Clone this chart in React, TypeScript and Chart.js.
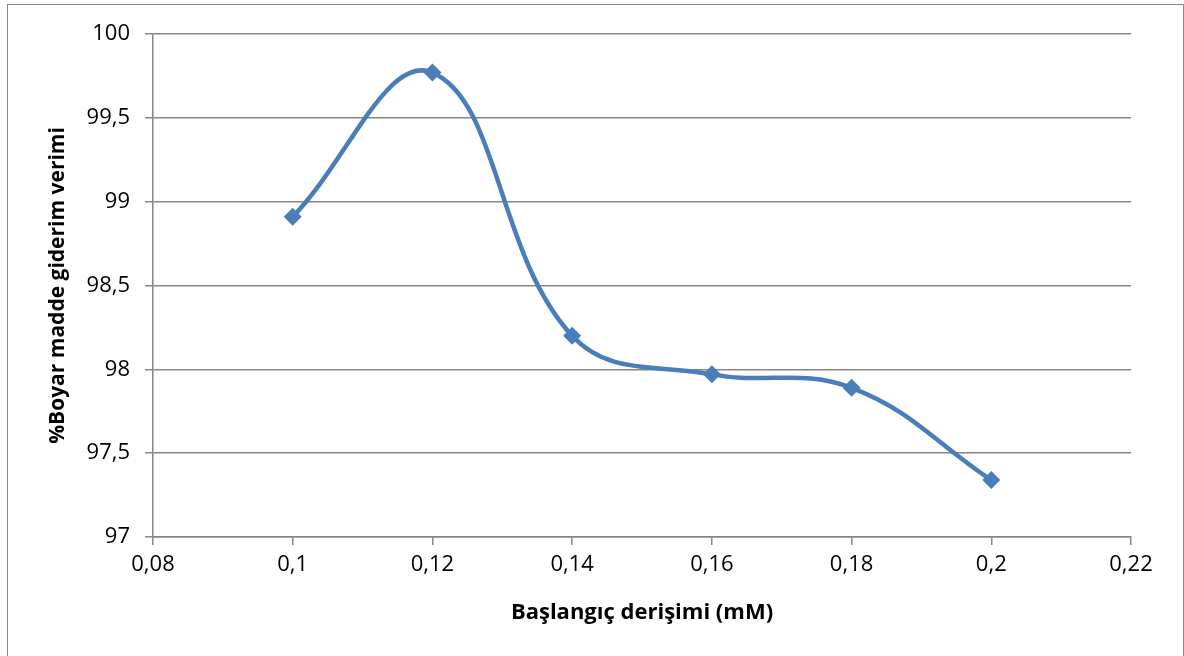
import React, { useEffect, useRef } from "react";
import { Chart, registerables } from "chart.js";

Chart.register(...registerables);

const concentrations = [0.1, 0.12, 0.14, 0.16, 0.18, 0.2];
const efficiency = [98.91, 99.77, 98.2, 97.97, 97.89, 97.34];
const xTitle = "Başlangıç derişimi (mM)";
const yTitle = "%Boyar madde giderim verimi";

const fmt = (v: number) => String(Number(Number(v).toFixed(2))).replace(".", ",");

export default function App() {
  const ref = useRef<HTMLCanvasElement | null>(null);
  useEffect(() => {
    if (!ref.current) return;
    const font = "'Open Sans', 'Liberation Sans', sans-serif";
    const gridColor = "#868686";
    const padL = 45;
    const padB = 30;
    const chart = new Chart(ref.current, {
      type: "scatter",
      data: {
        datasets: [
          {
            data: concentrations.map((x, i) => ({ x, y: efficiency[i] })),
            showLine: true,
            borderColor: "#4A7EBB",
            backgroundColor: "#4A7EBB",
            borderWidth: 4.5,
            tension: 0.4,
            cubicInterpolationMode: "default",
            pointStyle: "rectRot",
            pointRadius: 9,
            pointHoverRadius: 9,
            pointBorderWidth: 0,
          },
        ],
      },
      options: {
        animation: false,
        responsive: false,
        maintainAspectRatio: false,
        layout: { padding: { left: padL, right: 53, top: 34, bottom: padB } },
        plugins: { legend: { display: false }, tooltip: { enabled: false } },
        scales: {
          x: {
            type: "linear",
            min: 0.08,
            max: 0.22,
            ticks: {
              stepSize: 0.02,
              callback: (v: any) => fmt(v),
              color: "#000",
              font: { family: font, size: 22 },
              padding: 7,
              maxRotation: 0,
            },
            grid: {
              drawOnChartArea: false,
              drawTicks: true,
              tickLength: 8,
              color: gridColor,
              lineWidth: 1.5,
            },
            border: { color: gridColor, width: 1.5 },
            title: {
              display: true,
              text: xTitle,
              color: "#000",
              font: { family: font, size: 22, weight: "bold" },
              padding: { top: 4, bottom: 0 },
            },
            afterFit: (s: any) => {
              s.height = 656 - 537 - padB;
            },
          },
          y: {
            min: 97,
            max: 100,
            ticks: {
              stepSize: 0.5,
              callback: (v: any) => fmt(v),
              color: "#000",
              font: { family: font, size: 22 },
              padding: 15,
            },
            grid: {
              drawOnChartArea: true,
              drawTicks: true,
              tickLength: 8,
              color: gridColor,
              lineWidth: 1.5,
            },
            border: { color: gridColor, width: 1.5 },
            title: {
              display: true,
              text: yTitle,
              color: "#000",
              font: { family: font, size: 21, weight: "bold" },
              padding: { top: 0, bottom: 0 },
            },
            afterFit: (s: any) => {
              s.width = 153 - padL;
            },
          },
        },
      },
    });
    return () => chart.destroy();
  }, []);
  return (
    <div style={{ position: "absolute", left: 0, top: 0, width: 1184, height: 656, overflow: "hidden", background: "#fff" }}>
      <div
        style={{
          position: "absolute",
          left: 7,
          top: 4,
          width: 1177,
          height: 660,
          border: "1.5px solid #888",
          boxSizing: "border-box",
        }}
      />
      <canvas ref={ref} width={1184} height={656} style={{ position: "absolute", left: 0, top: 0 }} />
    </div>
  );
}
